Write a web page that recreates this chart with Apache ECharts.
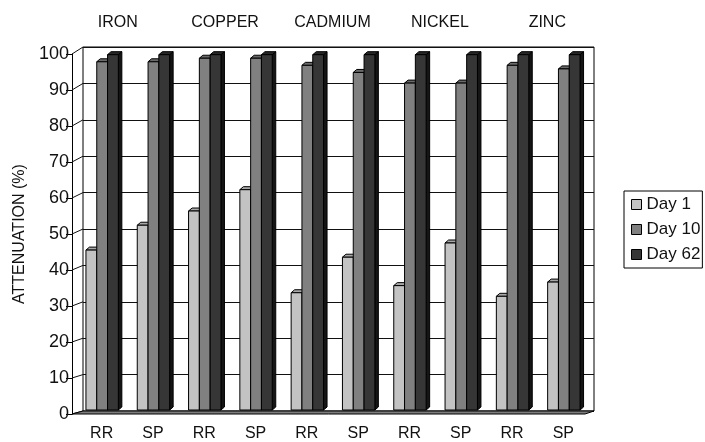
<!DOCTYPE html>
<html>
<head>
<meta charset="utf-8">
<script src="https://cdn.jsdelivr.net/npm/echarts@6/dist/echarts.min.js"></script>
<style>
  html, body { margin: 0; padding: 0; background: #fff; }
  #chart { width: 705px; height: 442px; }
</style>
</head>
<body>
<div id="chart"></div>
<script>
var categories = ['RR', 'SP', 'RR', 'SP', 'RR', 'SP', 'RR', 'SP', 'RR', 'SP'];
var metals = ['IRON', 'COPPER', 'CADMIUM', 'NICKEL', 'ZINC'];
var day1 = [45, 52, 56, 62, 33, 43, 35, 47, 32, 36];
var day10 = [98, 98, 99, 99, 97, 95, 92, 92, 97, 96];
var day62 = [100, 100, 100, 100, 100, 100, 100, 100, 100, 100];
var yTicks = [0, 10, 20, 30, 40, 50, 60, 70, 80, 90, 100];

var seriesNames = ['Day 1', 'Day 10', 'Day 62'];
var seriesData = [day1, day10, day62];
var front = ['#c3c3c3', '#808080', '#363636'];
var side = ['#8a8a8a', '#555555', '#151515'];
var topc = ['#a8a8a8', '#6a6a6a', '#262626'];

var font = 'Liberation Sans, Arial, sans-serif';
var chart = echarts.init(document.getElementById('chart'));

function makeRender(k) {
  return function (params, api) {
    var ci = api.value(0), v = api.value(1);
    var base = api.coord([ci, 0]);
    var top = api.coord([ci, v]);
    var bw = 10.8, dx = 3.5, dy = 3;
    var x0 = base[0] + 4.5 - 1.5 * bw + k * bw;
    var yb = base[1] - 4;
    var yt = yb - (base[1] - top[1]) * 0.987;
    var st = { stroke: '#000', lineWidth: 1 };
    return {
      type: 'group',
      children: [
        { type: 'polygon', shape: { points: [[x0 + bw, yt], [x0 + bw + dx, yt - dy], [x0 + bw + dx, yb - dy], [x0 + bw, yb]] },
          style: Object.assign({ fill: side[k] }, st) },
        { type: 'polygon', shape: { points: [[x0, yt], [x0 + dx, yt - dy], [x0 + bw + dx, yt - dy], [x0 + bw, yt]] },
          style: Object.assign({ fill: topc[k] }, st) },
        { type: 'rect', shape: { x: x0, y: yt, width: bw, height: yb - yt },
          style: Object.assign({ fill: front[k] }, st) }
      ]
    };
  };
}

var series = seriesNames.map(function (name, k) {
  return {
    name: name,
    type: 'custom',
    xAxisIndex: 0,
    yAxisIndex: 0,
    renderItem: makeRender(k),
    itemStyle: { color: front[k], borderColor: '#000', borderWidth: 1 },
    encode: { x: 0, y: 1 },
    data: seriesData[k].map(function (v, i) { return [i, v]; }),
    z: 3
  };
});

var option = {
  animation: false,
  backgroundColor: '#fff',
  textStyle: { fontFamily: font, color: '#111' },
  grid: [
    { left: 72, right: 120, top: 54, bottom: 24 },
    { left: 83, right: 111, top: 47, bottom: 31, show: true, borderColor: '#000', borderWidth: 1, backgroundColor: '#fff' },
    { left: 64, right: 104, top: 54, bottom: 24 }
  ],
  legend: {
    orient: 'vertical',
    left: 624,
    top: 191,
    padding: [5, 2, 5, 7],
    itemGap: 8,
    itemWidth: 10,
    itemHeight: 10,
    borderColor: '#000',
    borderWidth: 1,
    textStyle: { fontSize: 17, color: '#111', fontFamily: font },
    data: seriesNames.map(function (n, k) {
      return { name: n, icon: 'rect', itemStyle: { color: front[k], borderColor: '#000', borderWidth: 1 } };
    })
  },
  xAxis: [
    { type: 'category', gridIndex: 0, data: categories,
      axisLine: { show: false }, axisTick: { show: false },
      axisLabel: { fontSize: 16, color: '#111', margin: 12, padding: [0, 0, 0, 8] } },
    { type: 'category', gridIndex: 1, data: categories, show: false },
    { type: 'category', gridIndex: 2, position: 'top', data: metals,
      axisLine: { show: false }, axisTick: { show: false },
      axisLabel: { fontSize: 16, color: '#111', margin: 23 } }
  ],
  yAxis: [
    { type: 'value', gridIndex: 0, min: 0, max: 100, interval: 10,
      name: 'ATTENUATION (%)', nameLocation: 'middle', nameGap: 44,
      nameTextStyle: { fontSize: 16, color: '#111' },
      axisLine: { show: true, lineStyle: { color: '#000', width: 1 } },
      axisTick: { show: true, length: 6, lineStyle: { color: '#000' } },
      axisLabel: { fontSize: 18, color: '#111', margin: 3 },
      splitLine: { show: false } },
    { type: 'value', gridIndex: 1, min: 0, max: 100, interval: 10,
      axisLine: { show: false }, axisTick: { show: false }, axisLabel: { show: false },
      splitLine: { show: true, lineStyle: { color: '#111', width: 1 } } },
    { type: 'value', gridIndex: 2, show: false, min: 0, max: 100 }
  ],
  series: series
};
chart.setOption(option);

// left wall lines and floor, taken from the front and back planes' scales
var graphics = [];
yTicks.forEach(function (t) {
  var f = chart.convertToPixel({ yAxisIndex: 0 }, t);
  var b = chart.convertToPixel({ yAxisIndex: 1 }, t);
  graphics.push({
    type: 'line', z: 1, silent: true,
    shape: { x1: 72, y1: f, x2: 83, y2: b },
    style: { stroke: '#111', lineWidth: 1 }
  });
});
var fy0 = chart.convertToPixel({ yAxisIndex: 0 }, 0);
var by0 = chart.convertToPixel({ yAxisIndex: 1 }, 0);
var fxl = 72, fxr = 705 - 120, bxl = 83, bxr = 705 - 111;
graphics.push({
  type: 'polygon', z: 2, silent: true,
  shape: { points: [[fxl, fy0], [fxr, fy0], [bxr, by0], [bxl, by0]] },
  style: { fill: '#7d7d7d', stroke: '#000', lineWidth: 1 }
});
chart.setOption({ graphic: graphics });
</script>
</body>
</html>
